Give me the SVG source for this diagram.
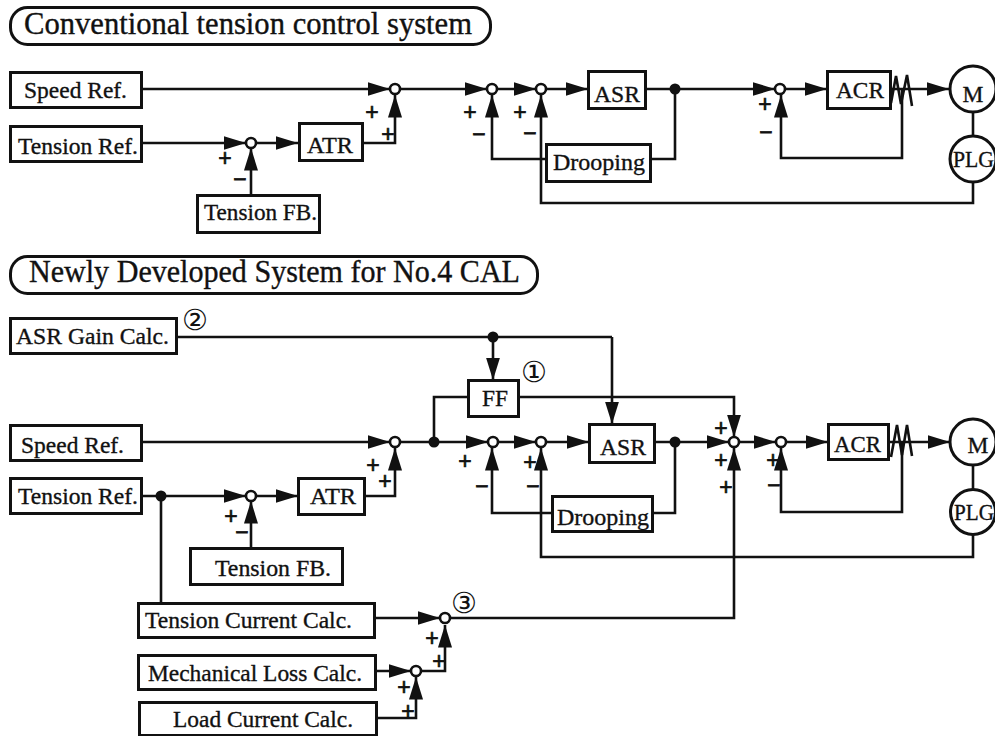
<svg xmlns="http://www.w3.org/2000/svg" width="995" height="736" viewBox="0 0 995 736">
<style>
text{font-family:"Liberation Serif","Times New Roman",serif;fill:#111;stroke:#111;stroke-width:.35}
.t{font-size:23.5px}
.h{font-size:30.5px}
.s{font-family:"Liberation Sans",Arial,sans-serif;font-size:23px;text-anchor:middle;stroke-width:.7}
.n{font-family:"DejaVu Sans",sans-serif;font-size:29px;text-anchor:middle;stroke:none}
.b{fill:#fff;stroke:#111;stroke-width:3}
.o{fill:#fff;stroke:#111;stroke-width:2.6}
.d{fill:#111}
.c{fill:none;stroke:#111;stroke-width:2.6;stroke-linejoin:miter}
.a{marker-end:url(#ah)}
</style>
<defs>
<marker id="ah" markerUnits="userSpaceOnUse" markerWidth="23" markerHeight="14" refX="22.5" refY="7" orient="auto"><path d="M0 0L22.5 7L0 14Z" fill="#111"/></marker>
</defs>
<g id="connectors">
<path class="c a" d="M141 89H390"/>
<path class="c a" d="M400 89H487"/>
<path class="c a" d="M497 89H536"/>
<path class="c a" d="M546 89H588"/>
<path class="c a" d="M645 89H775"/>
<path class="c a" d="M785 89H827"/>
<path class="c a" d="M890 89H949"/>
<path class="c a" d="M142 143H246"/>
<path class="c a" d="M256 143H298"/>
<path class="c a" d="M362 143H395V95"/>
<path class="c a" d="M251 195V148"/>
<path class="c a" d="M546 159H492V95"/>
<path class="c" d="M650 159H675V89"/>
<path class="c a" d="M902 88V158H781V95"/>
<path class="c a" d="M973 182V203H541V95"/>
<path class="c" d="M973 112V137"/>
<path class="c" d="M891 103L896 76L901 104L907 75L912 106"/>
<path class="c" d="M176 337H612"/>
<path class="c a" d="M612 337V424"/>
<path class="c a" d="M493 337V380"/>
<path class="c" d="M468 397H434V442"/>
<path class="c a" d="M518 397H734V437"/>
<path class="c a" d="M141 442H390"/>
<path class="c a" d="M400 442H488"/>
<path class="c a" d="M498 442H536"/>
<path class="c a" d="M546 442H589"/>
<path class="c a" d="M654 442H729"/>
<path class="c a" d="M739 442H776"/>
<path class="c a" d="M786 442H828"/>
<path class="c a" d="M888 442H950"/>
<path class="c a" d="M141 496H246"/>
<path class="c a" d="M256 496H298"/>
<path class="c a" d="M364 496H395V448"/>
<path class="c a" d="M251 548V501"/>
<path class="c" d="M161 496V603"/>
<path class="c a" d="M552 513H492V448"/>
<path class="c" d="M652 513H675V442"/>
<path class="c a" d="M902 442V512H781V448"/>
<path class="c a" d="M973 534V557H541V448"/>
<path class="c" d="M973 465V490"/>
<path class="c" d="M891 457L897 425L902 455L907 425L912 456"/>
<path class="c a" d="M374 618H440"/>
<path class="c a" d="M450 618H734V448"/>
<path class="c a" d="M375 671H411"/>
<path class="c a" d="M421 671H445V625"/>
<path class="c a" d="M376 718H416V677"/>
</g>
<g id="title-conventional"><rect class="b" x="10.500" y="7.500" width="480" height="37" rx="17"/><text class="h" x="24" y="34" textLength="448" lengthAdjust="spacingAndGlyphs">Conventional tension control system</text></g>
<g id="speed-ref-1"><rect class="b" x="10.500" y="72.500" width="131" height="35"/><text class="t" x="24" y="98" textLength="103" lengthAdjust="spacingAndGlyphs">Speed Ref.</text></g>
<g id="tension-ref-1"><rect class="b" x="10.500" y="126.500" width="131" height="35"/><text class="t" x="18" y="154" textLength="120" lengthAdjust="spacingAndGlyphs">Tension Ref.</text></g>
<g id="sum-1"><circle class="o" cx="395" cy="89" r="5"/></g>
<g id="sum-2"><circle class="o" cx="492" cy="89" r="5"/></g>
<g id="sum-3"><circle class="o" cx="541" cy="89" r="5"/></g>
<g id="sum-4"><circle class="o" cx="780" cy="89" r="5"/></g>
<g id="sum-5"><circle class="o" cx="251" cy="143" r="5"/></g>
<g id="atr-1"><rect class="b" x="299.500" y="123.500" width="63" height="37"/><text class="t" x="307" y="153" textLength="46" lengthAdjust="spacingAndGlyphs">ATR</text></g>
<g id="tension-fb-1"><rect class="b" x="197.500" y="195.500" width="122" height="37"/><text class="t" x="204" y="220" textLength="113" lengthAdjust="spacingAndGlyphs">Tension FB.</text></g>
<g id="asr-1"><rect class="b" x="588.500" y="71.500" width="57" height="37"/><text class="t" x="594" y="102" textLength="46" lengthAdjust="spacingAndGlyphs">ASR</text></g>
<g id="drooping-1"><rect class="b" x="546.500" y="144.500" width="104" height="37"/><text class="t" x="553" y="170" textLength="92" lengthAdjust="spacingAndGlyphs">Drooping</text></g>
<g id="acr-1"><rect class="b" x="827.500" y="71.500" width="63" height="37"/><text class="t" x="836" y="98" textLength="48" lengthAdjust="spacingAndGlyphs">ACR</text></g>
<g id="dot-1"><circle class="d" cx="675" cy="89" r="5.500"/></g>
<g id="motor-1"><circle class="b" cx="973" cy="89" r="23"/><text class="t" x="973" y="102" text-anchor="middle">M</text></g>
<g id="plg-1"><circle class="b" cx="973" cy="159" r="23"/><text class="t" x="953" y="167" textLength="41" lengthAdjust="spacingAndGlyphs">PLG</text></g>

<g id="title-new"><rect class="b" x="10.500" y="256.500" width="527" height="37" rx="17"/><text class="h" x="29" y="282" textLength="491" lengthAdjust="spacingAndGlyphs">Newly Developed System for No.4 CAL</text></g>
<g id="asr-gain"><rect class="b" x="10.500" y="318.500" width="166" height="35"/><text class="t" x="16" y="344" textLength="153" lengthAdjust="spacingAndGlyphs">ASR Gain Calc.</text></g>
<g id="ff"><rect class="b" x="468.500" y="380.500" width="50" height="36"/><text class="t" x="482" y="406" textLength="26" lengthAdjust="spacingAndGlyphs">FF</text></g>
<g id="speed-ref-2"><rect class="b" x="10.500" y="425.500" width="131" height="35"/><text class="t" x="21" y="453" textLength="103" lengthAdjust="spacingAndGlyphs">Speed Ref.</text></g>
<g id="tension-ref-2"><rect class="b" x="10.500" y="478.500" width="131" height="35"/><text class="t" x="18" y="504" textLength="120" lengthAdjust="spacingAndGlyphs">Tension Ref.</text></g>
<g id="atr-2"><rect class="b" x="298.500" y="478.500" width="66" height="36"/><text class="t" x="310" y="504" textLength="46" lengthAdjust="spacingAndGlyphs">ATR</text></g>
<g id="tension-fb-2"><rect class="b" x="190.500" y="548.500" width="152" height="36"/><text class="t" x="215" y="576" textLength="116" lengthAdjust="spacingAndGlyphs">Tension FB.</text></g>
<g id="asr-2"><rect class="b" x="589.500" y="424.500" width="65" height="38"/><text class="t" x="600" y="455" textLength="46" lengthAdjust="spacingAndGlyphs">ASR</text></g>
<g id="drooping-2"><rect class="b" x="552.500" y="496.500" width="100" height="35"/><text class="t" x="557" y="525" textLength="92" lengthAdjust="spacingAndGlyphs">Drooping</text></g>
<g id="acr-2"><rect class="b" x="828.500" y="424.500" width="60" height="35"/><text class="t" x="834" y="452" textLength="47" lengthAdjust="spacingAndGlyphs">ACR</text></g>
<g id="tension-current"><rect class="b" x="138.500" y="603.500" width="236" height="34"/><text class="t" x="145" y="628" textLength="207" lengthAdjust="spacingAndGlyphs">Tension Current Calc.</text></g>
<g id="mechanical-loss"><rect class="b" x="138.500" y="655.500" width="237" height="34"/><text class="t" x="148" y="681" textLength="214" lengthAdjust="spacingAndGlyphs">Mechanical Loss Calc.</text></g>
<g id="load-current"><rect class="b" x="139.500" y="702.500" width="237" height="33"/><text class="t" x="173" y="727" textLength="180" lengthAdjust="spacingAndGlyphs">Load Current Calc.</text></g>
<g id="sum-6"><circle class="o" cx="395" cy="442" r="5"/></g>
<g id="sum-7"><circle class="o" cx="493" cy="442" r="5"/></g>
<g id="sum-8"><circle class="o" cx="541" cy="442" r="5"/></g>
<g id="sum-9"><circle class="o" cx="734" cy="442" r="5"/></g>
<g id="sum-10"><circle class="o" cx="781" cy="442" r="5"/></g>
<g id="sum-11"><circle class="o" cx="251" cy="496" r="5"/></g>
<g id="sum-12"><circle class="o" cx="445" cy="618" r="5"/></g>
<g id="sum-13"><circle class="o" cx="416" cy="671" r="5"/></g>
<g id="dot-2"><circle class="d" cx="493" cy="337" r="5.500"/></g>
<g id="dot-3"><circle class="d" cx="434" cy="442" r="5.500"/></g>
<g id="dot-4"><circle class="d" cx="675" cy="442" r="5.500"/></g>
<g id="dot-5"><circle class="d" cx="161" cy="496" r="5.500"/></g>
<g id="motor-2"><circle class="b" cx="973" cy="442" r="23"/><text class="t" x="978" y="453" text-anchor="middle">M</text></g>
<g id="plg-2"><circle class="b" cx="973" cy="512" r="22.500"/><text class="t" x="954" y="520" textLength="40" lengthAdjust="spacingAndGlyphs">PLG</text></g>

<g id="labels">
<text class="n" x="195" y="330">②</text>
<text class="n" x="534" y="382">①</text>
<text class="n" x="464" y="613">③</text>
<text class="s" x="372" y="120">+</text><text class="s" x="388" y="142">+</text><text class="s" x="225" y="166">+</text><text class="s" x="240" y="187">−</text>
<text class="s" x="470" y="120">+</text><text class="s" x="479" y="142">−</text>
<text class="s" x="520" y="120">+</text><text class="s" x="530" y="141">−</text>
<text class="s" x="765" y="112">+</text><text class="s" x="766" y="140">−</text>
<text class="s" x="373" y="473">+</text><text class="s" x="385" y="489">+</text>
<text class="s" x="231" y="524">+</text><text class="s" x="242" y="540">−</text>
<text class="s" x="465" y="469">+</text><text class="s" x="482" y="494">−</text>
<text class="s" x="530" y="470">+</text><text class="s" x="533" y="494">−</text>
<text class="s" x="721" y="436">+</text><text class="s" x="721" y="468">+</text><text class="s" x="726" y="495">+</text>
<text class="s" x="773" y="468">+</text><text class="s" x="774" y="493">−</text>
<text class="s" x="432" y="646">+</text><text class="s" x="439" y="669">+</text><text class="s" x="404" y="695">+</text><text class="s" x="408" y="719">+</text>
</g>
</svg>
